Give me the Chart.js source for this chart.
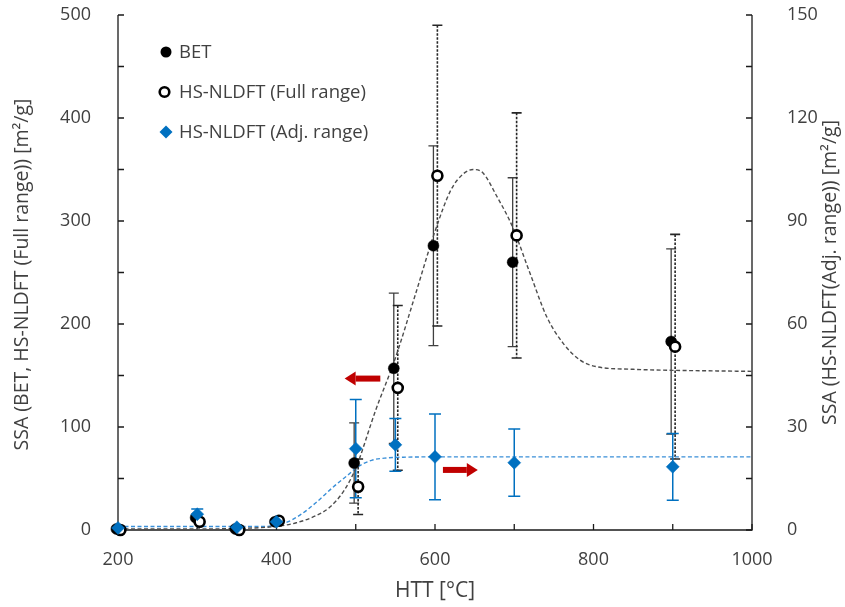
<!DOCTYPE html>
<html><head><meta charset="utf-8">
<script src="https://cdn.jsdelivr.net/npm/chart.js@4.4.1/dist/chart.umd.min.js"></script>
<style>html,body{margin:0;padding:0;background:#fff;}#wrap{width:845px;height:607px;}</style>
</head><body><div id="wrap"><canvas id="c" width="845" height="607"></canvas></div>
<script>
// ---- data ----
const htt      = [200, 300, 350, 400, 500, 550, 600, 700, 900];
const httBET   = [198, 298, 348, 398, 498, 548, 598, 698, 898];
const httFull  = [203, 303, 353, 403, 503, 553, 603, 703, 903];
const betSSA   = [1, 12, 1, 8, 65, 157, 276, 260, 183];
const betErr   = [0, 0, 0, 0, 39, 73, 97, 82, 90];
const fullSSA  = [0, 8, 0, 9, 42, 138, 344, 286, 178];
const fullErr  = [0, 0, 0, 0, 27, 80, 146, 119, 109];
const adjSSA   = [0.6, 4.6, 0.8, 2.4, 23.7, 24.8, 21.3, 19.6, 18.4];
const adjErr   = [0, 1.5, 0, 0, 14.3, 7.7, 12.5, 9.8, 9.7];
const fitFullX = [200, 250, 300, 350, 400, 425, 450, 467, 485, 500, 525, 550, 575, 600, 620, 636, 648, 660, 678, 698, 720, 741, 762, 783, 804, 850, 900, 950, 1000];
const fitFullY = [1, 1, 1, 1.5, 3.5, 7, 14, 22, 38, 60, 116, 167, 228, 290, 330, 346, 350, 347, 324, 294, 249, 207, 181, 165, 158.5, 156, 155, 154.5, 154];
const fitAdjX  = [200, 300, 380, 410, 430, 450, 472, 490, 500, 520, 540, 560, 600, 700, 800, 900, 1000];
const fitAdjY  = [1, 1, 1, 2, 4.4, 8, 12.6, 16, 18, 20.3, 21, 21.2, 21.3, 21.3, 21.3, 21.3, 21.3];
const xTickLabels  = [200, 400, 600, 800, 1000];
const yLeftLabels  = [0, 100, 200, 300, 400, 500];
const yRightLabels = [0, 30, 60, 90, 120, 150];
const legendLabels = ['BET', 'HS-NLDFT (Full range)', 'HS-NLDFT (Adj. range)'];
const leftTitle  = 'SSA (BET, HS-NLDFT (Full range)) [m\u00b2/g]';
const rightTitle = 'SSA (HS-NLDFT(Adj. range)) [m\u00b2/g]';
const xTitle     = 'HTT [\u00b0C]';

// ---- style ----
const FONT = "'Open Sans', sans-serif";
const TXT = '#404040';
const BLUE = '#0070C0';
const BLUE_FIT = '#3A8FD8';
const RED = '#C00000';
const zip = (xs, ys) => xs.map((v, i) => ({x: v, y: ys[i]}));

const decor = {
  id: 'decor',
  beforeDatasetsDraw(chart) {
    const {ctx, chartArea: a, scales: {x, y, y2}} = chart;
    ctx.save();
    ctx.strokeStyle = '#1a1a1a'; ctx.lineWidth = 1.3; ctx.setLineDash([]);
    ctx.beginPath();
    ctx.moveTo(a.left, a.top); ctx.lineTo(a.left, a.bottom); ctx.lineTo(a.right, a.bottom); ctx.lineTo(a.right, a.top);
    ctx.stroke();
    ctx.beginPath();
    for (let v = 200; v <= 1000; v += 100) { const p = x.getPixelForValue(v); ctx.moveTo(p, a.bottom); ctx.lineTo(p, a.bottom - 6); }
    for (let v = 0; v <= 500; v += 50) { const p = y.getPixelForValue(v); ctx.moveTo(a.left, p); ctx.lineTo(a.left + 6, p); }
    for (let v = 0; v <= 150; v += 15) { const p = y2.getPixelForValue(v); ctx.moveTo(a.right, p); ctx.lineTo(a.right - 6, p); }
    ctx.stroke();
    const bars = (xs, vals, errs, sc, color, width, dash, cap) => {
      ctx.strokeStyle = color; ctx.lineWidth = width;
      xs.forEach((xv, i) => {
        if (!errs[i]) return;
        const px = x.getPixelForValue(xv);
        const t = sc.getPixelForValue(vals[i] + errs[i]);
        const b = sc.getPixelForValue(vals[i] - errs[i]);
        ctx.setLineDash(dash);
        ctx.beginPath(); ctx.moveTo(px, t); ctx.lineTo(px, b); ctx.stroke();
        ctx.setLineDash([]);
        ctx.beginPath(); ctx.moveTo(px - cap, t); ctx.lineTo(px + cap, t); ctx.moveTo(px - cap, b); ctx.lineTo(px + cap, b); ctx.stroke();
      });
    };
    bars(httBET, betSSA, betErr, y, '#404040', 1.3, [], 5);
    bars(httFull, fullSSA, fullErr, y, '#262626', 1.6, [2.5, 1.5], 5);
    bars(htt, adjSSA, adjErr, y2, BLUE, 1.5, [], 6);
    ctx.restore();
  },
  afterDraw(chart) {
    const {ctx, chartArea: a, scales: {x, y, y2}} = chart;
    ctx.save();
    const arrow = (x0, x1, yv, sc) => {
      const p0 = x.getPixelForValue(x0), p1 = x.getPixelForValue(x1), py = sc.getPixelForValue(yv);
      const dir = Math.sign(p1 - p0), head = 11;
      ctx.fillStyle = RED;
      ctx.fillRect(Math.min(p0, p1 - dir * head), py - 3, Math.abs(p1 - dir * head - p0), 6);
      ctx.beginPath(); ctx.moveTo(p1, py); ctx.lineTo(p1 - dir * head, py - 7); ctx.lineTo(p1 - dir * head, py + 7); ctx.closePath(); ctx.fill();
    };
    arrow(531, 486, 147, y);
    arrow(610, 654, 17.5, y2);
    ctx.font = `18.5px ${FONT}`; ctx.fillStyle = TXT; ctx.textBaseline = 'middle'; ctx.textAlign = 'left';
    const ly = [52, 92, 132];
    ctx.beginPath(); ctx.arc(166, ly[0], 5.5, 0, Math.PI * 2); ctx.fillStyle = '#000'; ctx.fill();
    ctx.beginPath(); ctx.arc(164.5, ly[1], 4.8, 0, Math.PI * 2); ctx.fillStyle = '#fff'; ctx.fill(); ctx.lineWidth = 2.6; ctx.strokeStyle = '#000'; ctx.stroke();
    ctx.beginPath(); ctx.moveTo(166, ly[2] - 6.5); ctx.lineTo(172.5, ly[2]); ctx.lineTo(166, ly[2] + 6.5); ctx.lineTo(159.5, ly[2]); ctx.closePath(); ctx.fillStyle = BLUE; ctx.fill();
    ctx.fillStyle = TXT;
    legendLabels.forEach((t, i) => ctx.fillText(t, 179, ly[i] + 1));
    ctx.textAlign = 'center'; ctx.textBaseline = 'middle';
    ctx.font = `21px ${FONT}`;
    ctx.fillText(xTitle, (a.left + a.right) / 2, 591);
    const cy = (a.top + a.bottom) / 2;
    ctx.font = `19.5px ${FONT}`;
    ctx.save(); ctx.translate(22, cy + 2); ctx.rotate(-Math.PI / 2); ctx.fillText(leftTitle, 0, 0); ctx.restore();
    ctx.save(); ctx.translate(830, cy); ctx.rotate(-Math.PI / 2); ctx.fillText(rightTitle, 0, 0); ctx.restore();
    ctx.restore();
  }
};

const fixV = w => s => { s.width = w; s.paddingTop = 0; s.paddingBottom = 0; };

new Chart(document.getElementById('c'), {
  type: 'scatter',
  data: {
    datasets: [
      {label: legendLabels[2], data: zip(htt, adjSSA), yAxisID: 'y2', order: 0, clip: false,
       pointStyle: 'rectRot', pointRadius: 6.5, backgroundColor: BLUE, borderColor: BLUE, borderWidth: 0.5},
      {label: legendLabels[1], data: zip(httFull, fullSSA), yAxisID: 'y', order: 1, clip: false,
       pointStyle: 'circle', pointRadius: 5, backgroundColor: '#fff', borderColor: '#000', borderWidth: 2.6},
      {label: legendLabels[0], data: zip(httBET, betSSA), yAxisID: 'y', order: 2, clip: false,
       pointStyle: 'circle', pointRadius: 5.5, backgroundColor: '#000', borderColor: '#000', borderWidth: 0.5},
      {label: 'fit full', data: zip(fitFullX, fitFullY), yAxisID: 'y', order: 3, showLine: true, pointRadius: 0,
       borderColor: '#4d4d4d', borderWidth: 1.4, borderDash: [4, 2.5], cubicInterpolationMode: 'monotone', clip: false},
      {label: 'fit adj', data: zip(fitAdjX, fitAdjY), yAxisID: 'y2', order: 4, showLine: true, pointRadius: 0,
       borderColor: BLUE_FIT, borderWidth: 1.4, borderDash: [4, 2.5], cubicInterpolationMode: 'monotone', clip: false}
    ]
  },
  options: {
    responsive: false, animation: false, devicePixelRatio: 1, events: [],
    layout: {padding: {top: 15, left: 0, right: 0, bottom: 0}},
    plugins: {legend: {display: false}, tooltip: {enabled: false}},
    scales: {
      x: {type: 'linear', min: 200, max: 1000,
          afterFit: s => { s.height = 77; s.paddingLeft = 0; s.paddingRight = 0; },
          afterBuildTicks: s => { s.ticks = xTickLabels.map(v => ({value: v})); },
          ticks: {font: {family: FONT, size: 18}, color: TXT, padding: 11, callback: v => String(v)},
          grid: {display: false}, border: {display: false}},
      y: {type: 'linear', position: 'left', min: 0, max: 500,
          afterFit: fixV(118),
          afterBuildTicks: s => { s.ticks = yLeftLabels.map(v => ({value: v})); },
          ticks: {font: {family: FONT, size: 18}, color: TXT, padding: 19, callback: v => String(v)},
          grid: {display: false}, border: {display: false}},
      y2: {type: 'linear', position: 'right', min: 0, max: 150,
          afterFit: fixV(93),
          afterBuildTicks: s => { s.ticks = yRightLabels.map(v => ({value: v})); },
          ticks: {font: {family: FONT, size: 18}, color: TXT, padding: 27, callback: v => String(v)},
          grid: {display: false}, border: {display: false}}
    }
  },
  plugins: [decor]
});
</script></body></html>
